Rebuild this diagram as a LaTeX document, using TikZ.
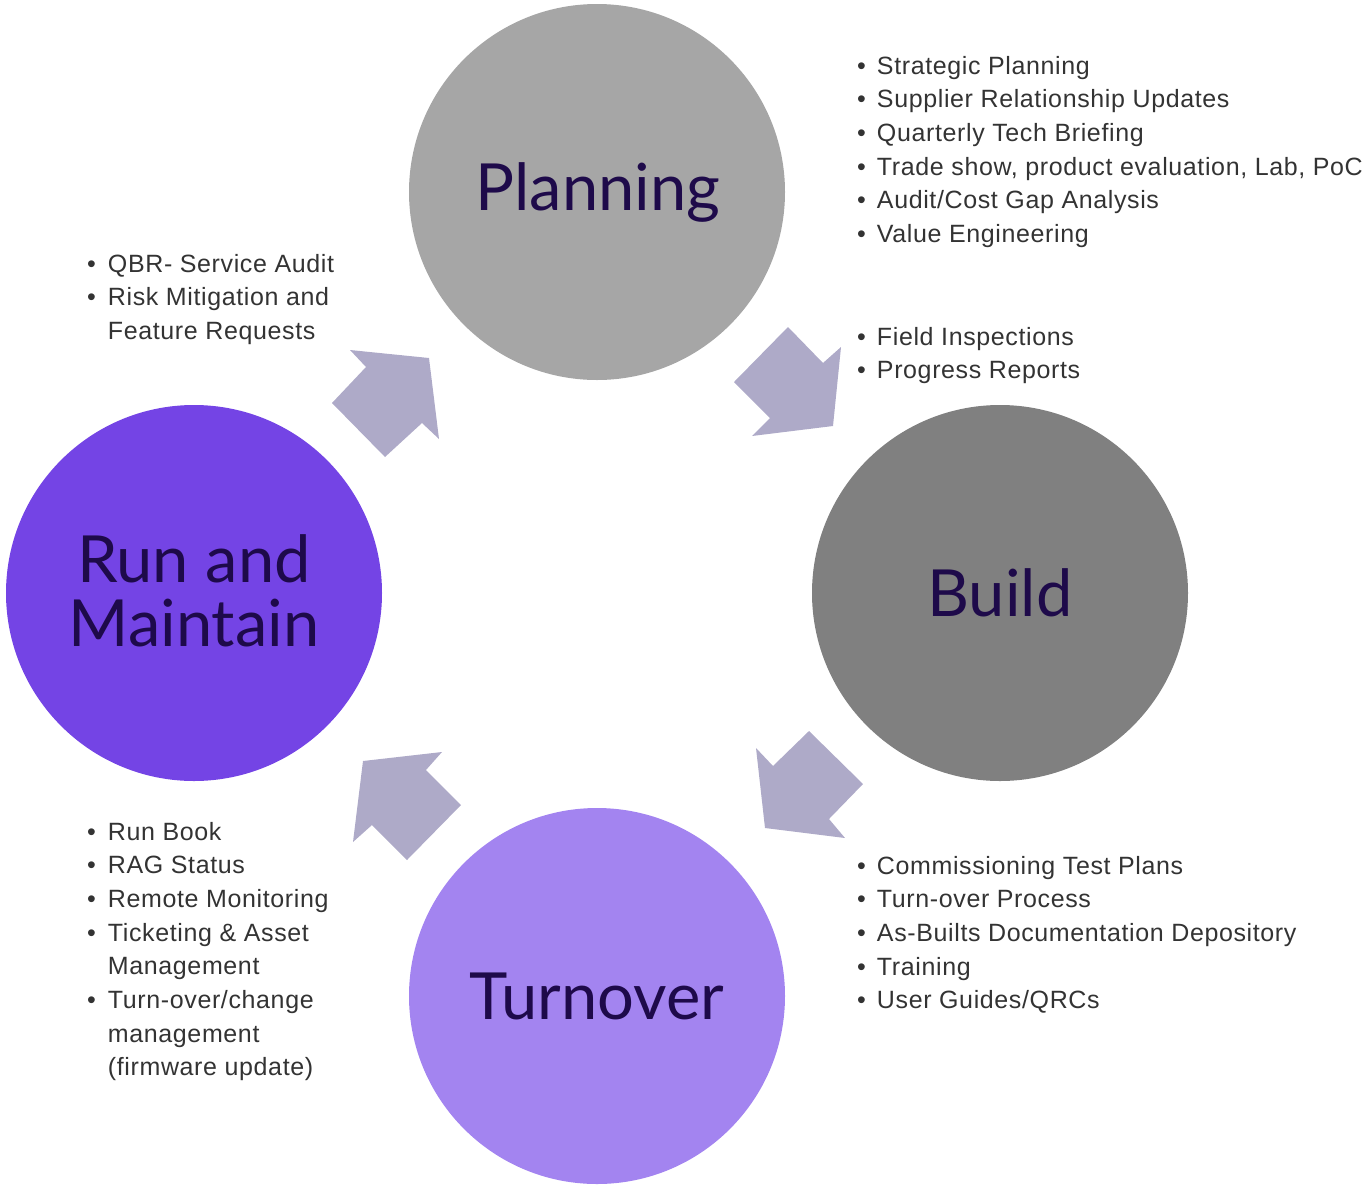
\documentclass[tikz,border=0pt]{standalone}
\usepackage{fontspec}
\setmainfont[LetterSpace=2.5]{Liberation Sans}
\newfontfamily\titlefont{Lato}
\definecolor{plancol}{HTML}{A6A6A6}
\definecolor{buildcol}{HTML}{808080}
\definecolor{turncol}{HTML}{A384F0}
\definecolor{runcol}{HTML}{7444E5}
\definecolor{arrcol}{HTML}{AEAAC8}
\definecolor{titlecol}{HTML}{1E0A4A}
\definecolor{txtcol}{HTML}{333333}
\newcommand{\bl}{\textbullet}
\begin{document}
\begin{tikzpicture}[x=1pt,y=-1pt,
  phase/.style={circle,minimum size=376pt,inner sep=0pt,draw=none},
  ptitle/.style={text=titlecol,font=\titlefont\fontsize{65}{68}\selectfont,align=center},
  blist/.style={anchor=base west,inner sep=0pt,text=txtcol,font=\fontsize{25}{33.7}\selectfont},
  blockarrow/.style={fill=arrcol,draw=none}]
\useasboundingbox (0,0) rectangle (1371,1187);
% circles
\node[phase,fill=plancol] (plan) at (597,192) {};
\node[phase,fill=buildcol] (build) at (1000,593) {};
\node[phase,fill=turncol] (turn) at (597,996) {};
\node[phase,fill=runcol] (run) at (194,593) {};
% titles
\node[ptitle] (tplan) at (598,192) {Planning};
\node[ptitle] (tbuild) at (1000,593) {Build};
\node[ptitle] (tturn) at (597,996) {Turnover};
\node[ptitle] (trun) at (194,591) {Run and\\[-4pt]Maintain};
% arrows
\fill[blockarrow] (788,327) -- (823,363) -- (841,347) -- (833,426) -- (752,436) -- (770,418) -- (734,382) -- cycle;
\fill[blockarrow] (350,350) -- (429,358) -- (439,439) -- (422,423) -- (385,457) -- (332,403) -- (366,367) -- cycle;
\fill[blockarrow] (363,761) -- (442,752) -- (426,770) -- (461,805) -- (407,860) -- (372,825) -- (353,842) -- cycle;
\fill[blockarrow] (756,748) -- (773,766) -- (809,731) -- (863,784) -- (829,819) -- (845,838) -- (765,828) -- cycle;
% bullet lists
\node[blist] (lplan) at (857,74) {\begin{tabular}[t]{@{}l@{\hspace{11pt}}l@{}}
\bl & Strategic Planning\\
\bl & Supplier Relationship Updates\\
\bl & Quarterly Tech Briefing\\
\bl & Trade show, product evaluation, Lab, PoC\\
\bl & Audit/Cost Gap Analysis\\
\bl & Value Engineering
\end{tabular}};
\node[blist] (lbuild) at (857,345) {\begin{tabular}[t]{@{}l@{\hspace{11pt}}l@{}}
\bl & Field Inspections\\
\bl & Progress Reports
\end{tabular}};
\node[blist] (lturn) at (857,874) {\begin{tabular}[t]{@{}l@{\hspace{11pt}}l@{}}
\bl & Commissioning Test Plans\\
\bl & Turn-over Process\\
\bl & As-Builts Documentation Depository\\
\bl & Training\\
\bl & User Guides/QRCs
\end{tabular}};
\node[blist] (lqbr) at (87,272) {\begin{tabular}[t]{@{}l@{\hspace{12pt}}l@{}}
\bl & QBR- Service Audit\\
\bl & Risk Mitigation and\\
 & Feature Requests
\end{tabular}};
\node[blist] (lrun) at (87,840) {\begin{tabular}[t]{@{}l@{\hspace{12pt}}l@{}}
\bl & Run Book\\
\bl & RAG Status\\
\bl & Remote Monitoring\\
\bl & Ticketing \& Asset\\
 & Management\\
\bl & Turn-over/change\\
 & management\\
 & (firmware update)
\end{tabular}};
\end{tikzpicture}
\end{document}
